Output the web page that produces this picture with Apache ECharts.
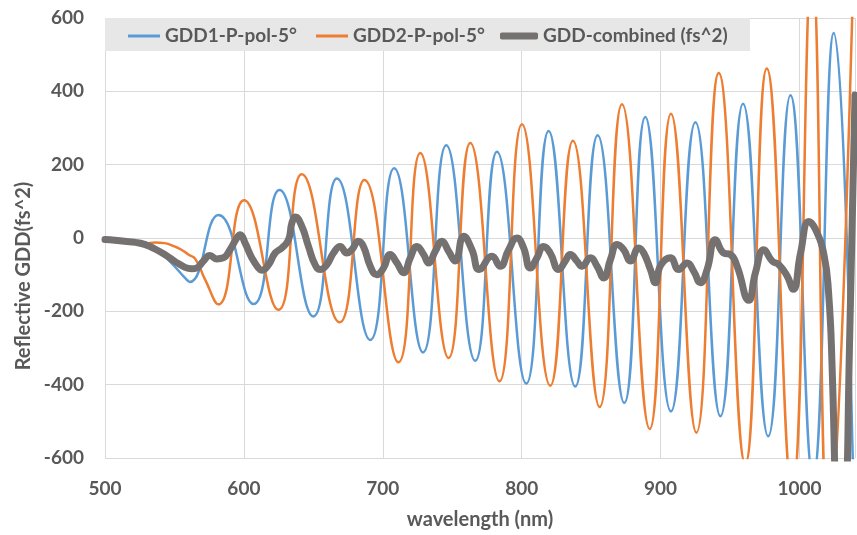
<!DOCTYPE html>
<html>
<head>
<meta charset="utf-8">
<script src="https://cdn.jsdelivr.net/npm/echarts@6/dist/echarts.min.js"></script>
<style>
html,body{margin:0;padding:0;background:#fff;}
#chart{width:857px;height:535px;}
</style>
</head>
<body>
<div id="chart"></div>
<script>
// ---- data ----
var seriesNames = ['GDD1-P-pol-5°', 'GDD2-P-pol-5°', 'GDD-combined (fs^2)'];
var xTicks = [500, 600, 700, 800, 900, 1000];
var yTicks = [-600, -400, -200, 0, 200, 400, 600];

// [wavelength nm, GDD fs^2]
var gdd1 = [
  [500,-4],[507,-6],[514,-9],[522,-12],[529,-18],[536,-30],[543,-50],[550,-77],[557.6,-109],[561,-120],
  [581.7,63],[607,-180],[625.6,131],[650,-214],[667,162],[691,-278],[708.2,190],[729,-312],
  [745.7,253],[766.6,-335],[782.2,235],[803.3,-397],[819.4,292],[838.6,-405],[854.7,280],
  [873.9,-450],[889,330],[907.5,-473],[925.1,316],[943.1,-486],[959.4,366],[977.5,-541],
  [993.5,389],[1009.8,-650],[1024.7,559],[1040,-900]
];
var gdd2 = [
  [500,-4],[507,-6],[514,-9],[522,-12],[529,-15],[536,-12],[543,-14],[550,-23],[555,-32],[560,-45],
  [565,-57],[572,-113],[581.6,-181],[600.1,103],[624.9,-196],[641.7,174],[669,-230],[686.8,158],
  [711.3,-339],[727,232],[747.4,-327],[763,259],[784,-391],[800.2,310],[820.6,-403],[836.9,265],
  [856.1,-461],[872.2,365],[892.2,-521],[907.5,339],[925.8,-531],[941.9,450],[961,-615],
  [976.5,462],[994.7,-690],[1009,740],[1021,-800],[1040,900]
];
var combined = [
  [500,-4],[507,-6],[514,-9],[522,-12],[529,-18],[536,-30],[543,-45],[550,-63],[557.6,-80],
  [562.4,-84],[566,-82],[570.8,-63],[575.6,-48],[580.5,-57],[585.3,-54],[590,-32],[594.9,0],
  [597.3,9],[600.9,-14],[605.7,-54],[610.5,-82],[612.9,-88],[617.7,-73],[622.5,-41],[627.3,-27],
  [632.1,-5],[634.5,40],[637,57],[641.7,32],[646.5,-23],[651.3,-73],[654.9,-86],[659.7,-73],
  [664.5,-41],[669.3,-23],[674.1,-41],[677.7,-32],[682.5,-9],[686.1,-23],[691,-77],[695.7,-100],
  [700.5,-82],[705.3,-45],[710.2,-68],[715,-95],[719.8,-54],[724.6,-23],[729.4,-45],[733,-68],
  [737.8,-36],[742.6,-9],[747.4,-36],[752.2,-63],[758.2,5],[764.2,-32],[769.5,-86],[778.6,-50],
  [784.6,-77],[790.6,-32],[796.6,0],[801.4,-27],[806.2,-82],[811,-54],[815.8,-23],[820.6,-41],
  [826.6,-86],[831.4,-63],[835,-45],[839.8,-63],[843.4,-77],[849.5,-54],[854.3,-77],[859.1,-109],
  [863.9,-59],[868.7,-18],[873.5,-32],[878.3,-63],[884.3,-27],[887.9,-41],[892.7,-86],[896.3,-122],
  [900,-75],[907.1,-54],[913.1,-86],[919.1,-68],[923.9,-91],[928.7,-122],[933.5,-86],[939.5,-5],
  [945.5,-41],[950.3,-45],[955.1,-77],[963.5,-170],[968.3,-95],[974.4,-32],[980.4,-63],[985.2,-73],
  [991.2,-104],[995.5,-140],[1000.8,-41],[1006.8,45],[1011.6,23],[1017.6,-45],[1021,-150],
  [1023.5,-350],[1026,-700],[1029,-1000],[1033,-800],[1036,-300],[1040,390]
];

var FONT = 'Lato, "Open Sans", sans-serif';
var TXT = '#595959';
var GRIDC = '#d9d9d9';
var COLORS = ['#5b9bd5', '#ed7d31', '#767171'];

function legendFor(i, left, w, h, icon) {
  return {
    show: true, left: left, top: 21, z: 6,
    icon: icon, itemWidth: w, itemHeight: h, itemGap: 0,
    data: [seriesNames[i]],
    itemStyle: {color: COLORS[i], borderWidth: 0},
    lineStyle: {width: 0},
    textStyle: {color: TXT, fontSize: 19, fontWeight: 'bold', fontFamily: FONT, lineHeight: 20}
  };
}

var chart = echarts.init(document.getElementById('chart'), null, {renderer: 'canvas'});
chart.setOption({
  animation: false,
  backgroundColor: '#ffffff',
  textStyle: {fontFamily: FONT},
  grid: {left: 105, right: 2, top: 18, bottom: 76, containLabel: false},
  graphic: {elements: [
    {type: 'rect', z: 3, shape: {x: 105, y: 18, width: 645, height: 33}, style: {fill: '#e7e7e7'}},
    {type: 'text', z: 5, x: 24, y: 276, rotation: Math.PI / 2,
     style: {text: 'Reflective GDD(fs^2)', fill: TXT, font: 'bold 20px ' + FONT, align: 'center', verticalAlign: 'middle'}}
  ]},
  legend: [
    legendFor(0, 123, 32, 3, 'rect'),
    legendFor(1, 311, 32, 3, 'rect'),
    legendFor(2, 495, 38, 7, 'roundRect')
  ],
  xAxis: {
    type: 'value', min: 500, max: 1040, interval: 100,
    axisLine: {show: true, lineStyle: {color: GRIDC, width: 1}},
    axisTick: {show: false},
    splitLine: {show: true, lineStyle: {color: GRIDC, width: 1}},
    axisLabel: {color: TXT, fontSize: 19, fontWeight: 'bold', margin: 21, showMaxLabel: false,
      formatter: function (v) { return xTicks.indexOf(v) >= 0 ? String(v) : ''; }},
    name: 'wavelength (nm)', nameLocation: 'middle', nameGap: 52,
    nameTextStyle: {color: TXT, fontSize: 20, fontWeight: 'bold'}
  },
  yAxis: {
    type: 'value', min: -600, max: 600, interval: 200,
    axisLine: {show: false}, axisTick: {show: false},
    splitLine: {show: true, lineStyle: {color: GRIDC, width: 1}},
    axisLabel: {color: TXT, fontSize: 19, fontWeight: 'bold', margin: 21,
      formatter: function (v) { return yTicks.indexOf(v) >= 0 ? String(v) : ''; }}
  },
  series: [
    {name: seriesNames[0], type: 'line', data: gdd1, smooth: 0.5, showSymbol: false, symbol: 'none', clip: true,
     lineStyle: {color: COLORS[0], width: 2.5}, itemStyle: {color: COLORS[0]}},
    {name: seriesNames[1], type: 'line', data: gdd2, smooth: 0.5, showSymbol: false, symbol: 'none', clip: true,
     lineStyle: {color: COLORS[1], width: 2.5}, itemStyle: {color: COLORS[1]}},
    {name: seriesNames[2], type: 'line', data: combined, smooth: 0.5, showSymbol: false, symbol: 'none', clip: true,
     lineStyle: {color: COLORS[2], width: 7, cap: 'round', join: 'round'}, itemStyle: {color: COLORS[2]}}
  ]
});
</script>
</body>
</html>
